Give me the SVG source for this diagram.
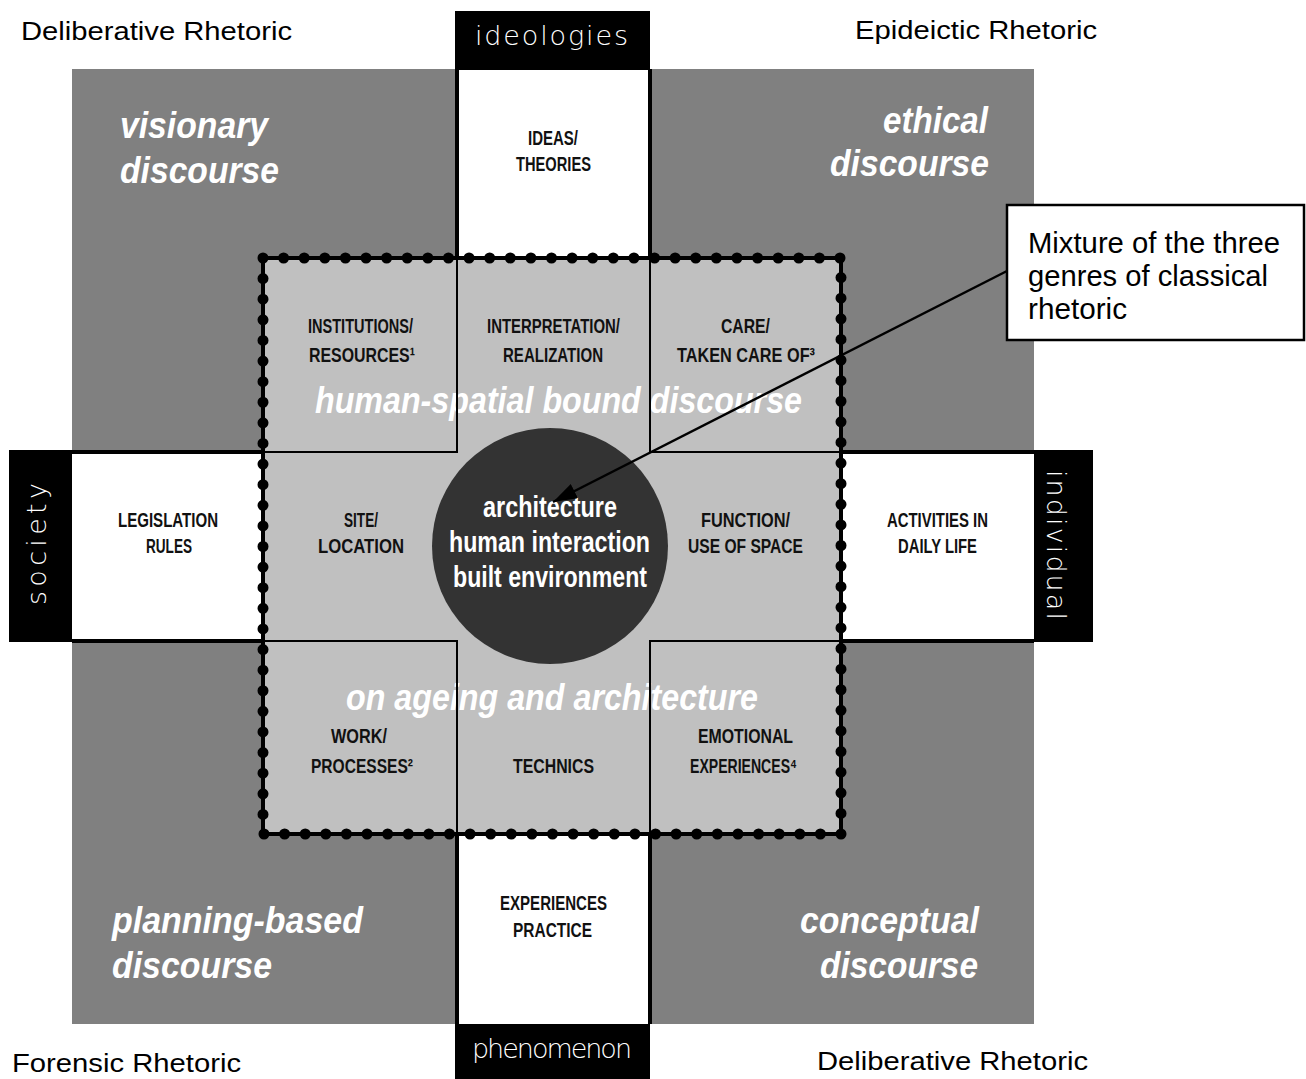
<svg xmlns="http://www.w3.org/2000/svg" width="1306" height="1079" viewBox="0 0 1306 1079">
<defs>
<style>
.rh{font-family:"Liberation Sans",Arial,sans-serif;font-size:25px;fill:#000}
.disc{font-family:"Liberation Sans",Arial,sans-serif;font-size:37px;font-weight:bold;font-style:italic;fill:#fff}
.cap{font-family:"Liberation Sans",Arial,sans-serif;font-size:20px;font-weight:bold;fill:#111}
.lab{font-family:"DejaVu Sans","Liberation Sans",sans-serif;font-size:27px;font-weight:200;fill:#fff}
.core{font-family:"Liberation Sans",Arial,sans-serif;font-size:29px;font-weight:bold;fill:#fff}
.call{font-family:"Liberation Sans",Arial,sans-serif;font-size:29px;fill:#000}
.bd{stroke:#000;stroke-width:4;fill:none}
.ln{stroke:#000;stroke-width:2;fill:none}
</style>
<marker id="ah" markerUnits="userSpaceOnUse" markerWidth="26" markerHeight="18" refX="24" refY="8" orient="auto">
<path d="M0,0 L24,8 L0,16 Z" fill="#000"/>
</marker>
</defs>
<rect width="1306" height="1079" fill="#fff"/>

<g id="background">
<rect x="72" y="69" width="962" height="955" fill="#808080"/>
<rect x="457" y="69" width="193" height="955" fill="#fff"/>
<rect x="72" y="452" width="962" height="189" fill="#fff"/>
<path class="bd" d="M457,69 V258 M650,69 V258 M457,834 V1024 M650,834 V1024 M72,452 H263 M72,641 H263 M841,452 H1034 M841,641 H1034"/>
<rect x="263" y="258" width="578" height="576" fill="#c0c0c0"/>
</g>

<g id="titles">
<text class="rh" x="21" y="40" textLength="271" lengthAdjust="spacingAndGlyphs">Deliberative Rhetoric</text>
<text class="rh" x="855" y="39" textLength="242" lengthAdjust="spacingAndGlyphs">Epideictic Rhetoric</text>
<text class="rh" x="12" y="1072" textLength="229" lengthAdjust="spacingAndGlyphs">Forensic Rhetoric</text>
<text class="rh" x="817" y="1070" textLength="271" lengthAdjust="spacingAndGlyphs">Deliberative Rhetoric</text>
</g>

<g id="discourses">
<text class="disc" x="120" y="138" textLength="148" lengthAdjust="spacingAndGlyphs">visionary</text>
<text class="disc" x="120" y="183" textLength="159" lengthAdjust="spacingAndGlyphs">discourse</text>
<text class="disc" x="883" y="133" textLength="105" lengthAdjust="spacingAndGlyphs">ethical</text>
<text class="disc" x="830" y="176" textLength="159" lengthAdjust="spacingAndGlyphs">discourse</text>
<text class="disc" x="112" y="933" textLength="251" lengthAdjust="spacingAndGlyphs">planning-based</text>
<text class="disc" x="112" y="978" textLength="160" lengthAdjust="spacingAndGlyphs">discourse</text>
<text class="disc" x="800" y="933" textLength="179" lengthAdjust="spacingAndGlyphs">conceptual</text>
<text class="disc" x="820" y="978" textLength="158" lengthAdjust="spacingAndGlyphs">discourse</text>
<text class="disc" x="315" y="413" textLength="487" lengthAdjust="spacingAndGlyphs">human-spatial bound discourse</text>
<text class="disc" x="346" y="710" textLength="412" lengthAdjust="spacingAndGlyphs">on ageing and architecture</text>
</g>

<g id="quadrant-lines">
<path class="ln" d="M457,258 V452 H263 M650,258 V452 H841 M457,834 V641 H263 M650,834 V641 H841"/>
</g>

<g id="dotted-frame">
<rect x="263" y="258" width="578" height="576" fill="none" stroke="#000" stroke-width="4"/>
<path d="M263,258 H841 V834 H263 Z" pathLength="112" fill="none" stroke="#000" stroke-width="11" stroke-linecap="round" stroke-dasharray="0 1"/>
</g>

<g id="node-ideologies">
<rect x="455" y="11" width="195" height="59" fill="#000"/>
<text class="lab" x="475" y="45" textLength="153" lengthAdjust="spacing">ideologies</text>
</g>
<g id="node-phenomenon">
<rect x="455" y="1024" width="195" height="55" fill="#000"/>
<text class="lab" x="472" y="1058" font-size="25" textLength="160" lengthAdjust="spacing">phenomenon</text>
</g>
<g id="node-society">
<rect x="9" y="450" width="63" height="192" fill="#000"/>
<text class="lab" transform="translate(46,605) rotate(-90)" x="0" y="0" textLength="122" lengthAdjust="spacing">society</text>
</g>
<g id="node-individual">
<rect x="1034" y="450" width="59" height="192" fill="#000"/>
<text class="lab" transform="translate(1047,470) rotate(90)" x="0" y="0" textLength="150" lengthAdjust="spacing">individual</text>
</g>

<g id="node-ideas">
<text class="cap" x="528" y="145" textLength="50" lengthAdjust="spacingAndGlyphs">IDEAS/</text>
<text class="cap" x="516" y="171" textLength="75" lengthAdjust="spacingAndGlyphs">THEORIES</text>
</g>
<g id="node-institutions">
<text class="cap" x="308" y="333" textLength="105" lengthAdjust="spacingAndGlyphs">INSTITUTIONS/</text>
<text class="cap" x="309" y="362" textLength="106" lengthAdjust="spacingAndGlyphs">RESOURCES¹</text>
</g>
<g id="node-interpretation">
<text class="cap" x="487" y="333" textLength="133" lengthAdjust="spacingAndGlyphs">INTERPRETATION/</text>
<text class="cap" x="503" y="362" textLength="100" lengthAdjust="spacingAndGlyphs">REALIZATION</text>
</g>
<g id="node-care">
<text class="cap" x="721" y="333" textLength="49" lengthAdjust="spacingAndGlyphs">CARE/</text>
<text class="cap" x="677" y="362" textLength="138" lengthAdjust="spacingAndGlyphs">TAKEN CARE OF³</text>
</g>
<g id="node-legislation">
<text class="cap" x="118" y="527" textLength="100" lengthAdjust="spacingAndGlyphs">LEGISLATION</text>
<text class="cap" x="146" y="553" textLength="46" lengthAdjust="spacingAndGlyphs">RULES</text>
</g>
<g id="node-site">
<text class="cap" x="344" y="527" textLength="34" lengthAdjust="spacingAndGlyphs">SITE/</text>
<text class="cap" x="318" y="553" textLength="86" lengthAdjust="spacingAndGlyphs">LOCATION</text>
</g>
<g id="node-function">
<text class="cap" x="701" y="527" textLength="89" lengthAdjust="spacingAndGlyphs">FUNCTION/</text>
<text class="cap" x="688" y="553" textLength="115" lengthAdjust="spacingAndGlyphs">USE OF SPACE</text>
</g>
<g id="node-activities">
<text class="cap" x="887" y="527" textLength="101" lengthAdjust="spacingAndGlyphs">ACTIVITIES IN</text>
<text class="cap" x="898" y="553" textLength="79" lengthAdjust="spacingAndGlyphs">DAILY LIFE</text>
</g>
<g id="node-work">
<text class="cap" x="331" y="743" textLength="56" lengthAdjust="spacingAndGlyphs">WORK/</text>
<text class="cap" x="311" y="773" textLength="102" lengthAdjust="spacingAndGlyphs">PROCESSES²</text>
</g>
<g id="node-technics">
<text class="cap" x="513" y="773" textLength="81" lengthAdjust="spacingAndGlyphs">TECHNICS</text>
</g>
<g id="node-emotional">
<text class="cap" x="698" y="743" textLength="95" lengthAdjust="spacingAndGlyphs">EMOTIONAL</text>
<text class="cap" x="690" y="773" textLength="107" lengthAdjust="spacingAndGlyphs">EXPERIENCES⁴</text>
</g>
<g id="node-experiences">
<text class="cap" x="500" y="910" textLength="107" lengthAdjust="spacingAndGlyphs">EXPERIENCES</text>
<text class="cap" x="513" y="937" textLength="79" lengthAdjust="spacingAndGlyphs">PRACTICE</text>
</g>

<g id="node-core">
<circle cx="550" cy="546" r="118" fill="#333"/>
<text class="core" x="483" y="517" textLength="134" lengthAdjust="spacingAndGlyphs">architecture</text>
<text class="core" x="449" y="552" textLength="201" lengthAdjust="spacingAndGlyphs">human interaction</text>
<text class="core" x="453" y="587" textLength="194" lengthAdjust="spacingAndGlyphs">built environment</text>
</g>

<g id="node-callout">
<rect x="1007" y="205" width="297" height="135" fill="#fff" stroke="#000" stroke-width="2.5"/>
<text class="call" x="1028" y="253" textLength="252" lengthAdjust="spacingAndGlyphs">Mixture of the three</text>
<text class="call" x="1028" y="286" textLength="240" lengthAdjust="spacingAndGlyphs">genres of classical</text>
<text class="call" x="1028" y="319" textLength="99" lengthAdjust="spacingAndGlyphs">rhetoric</text>
</g>

<g id="connectors">
<line x1="1007" y1="271" x2="553" y2="502" stroke="#000" stroke-width="2.5" marker-end="url(#ah)"/>
</g>
</svg>
